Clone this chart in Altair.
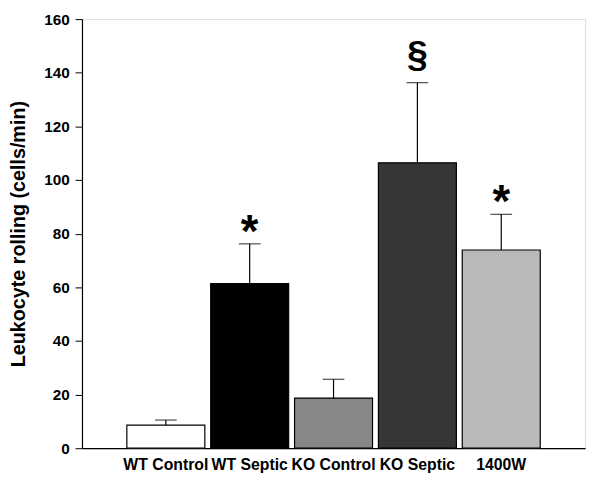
import altair as alt
import pandas as pd

groups = ["WT Control", "WT Septic", "KO Control", "KO Septic", "1400W"]
means = [8.6, 61.4, 18.7, 106.4, 73.9]
err_top = [10.5, 76.2, 25.7, 136.3, 87.2]
marks = ["", "*", "", "§", "*"]
fills = ["#ffffff", "#000000", "#878787", "#363636", "#b9b9b9"]

df = pd.DataFrame({"group": groups, "mean": means, "top": err_top,
                   "mark": marks, "fill": fills})

x = alt.X("group:N", sort=groups, title=None,
          scale=alt.Scale(paddingInner=0.07, paddingOuter=0.535),
          axis=alt.Axis(labelAngle=0, labelFont="Liberation Sans", labelFontWeight="bold",
                        labelFontSize=16, labelColor="black", ticks=False,
                        labelPadding=9, domainColor="black", domainWidth=1.2))
y = alt.Y("mean:Q", title="Leukocyte rolling (cells/min)",
          scale=alt.Scale(domain=[0, 160], nice=False),
          axis=alt.Axis(values=list(range(0, 161, 20)), grid=False, tickSize=7,
                        tickColor="black", domainColor="black", domainWidth=1.2,
                        labelFont="Liberation Sans", labelFontWeight="bold",
                        labelFontSize=15.5, labelColor="black", labelPadding=6,
                        titleFont="Liberation Sans", titleFontWeight="bold",
                        titleFontSize=20, titleColor="black", titlePadding=15))

base = alt.Chart(df)

err = base.mark_rule(color="black", strokeWidth=1.2).encode(
    x=x, y=alt.Y("mean:Q"), y2="top:Q")
cap = base.mark_tick(color="black", size=22, thickness=1.2, orient="horizontal").encode(
    x=x, y=alt.Y("top:Q"))
bars = base.mark_bar(stroke="black", strokeWidth=1.2).encode(
    x=x, y=y, fill=alt.Fill("fill:N", scale=None))
star = base.transform_filter(alt.datum.mark == "*").mark_text(
    font="Liberation Sans", fontWeight="bold", fontSize=46,
    baseline="alphabetic", dy=3, color="black").encode(
    x=x, y=alt.Y("top:Q"), text="mark:N")
sect = base.transform_filter(alt.datum.mark == "§").mark_text(
    font="Liberation Sans", fontWeight="bold", fontSize=38,
    baseline="alphabetic", dy=-16, color="black").encode(
    x=x, y=alt.Y("top:Q"), text="mark:N")

chart = alt.layer(err, cap, bars, star, sect).properties(
    width=510, height=435,
    autosize=alt.AutoSizeParams(type="none"),
    padding={"left": 75, "top": 8, "right": 7, "bottom": 31},
).configure_view(stroke=None).configure(background="white")

chart.save("out.html", embed_options={"renderer": "svg", "actions": False})
